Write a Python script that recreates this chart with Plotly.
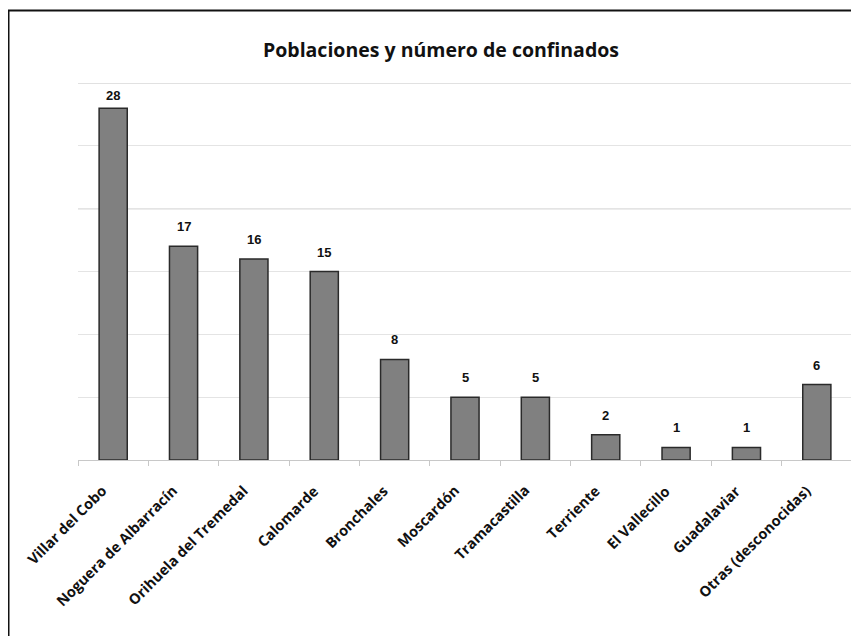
import plotly.graph_objects as go

categories = ["Villar del Cobo", "Noguera de Albarracín", "Orihuela del Tremedal",
              "Calomarde", "Bronchales", "Moscardón", "Tramacastilla", "Terriente",
              "El Vallecillo", "Guadalaviar", "Otras (desconocidas)"]
values = [28, 17, 16, 15, 8, 5, 5, 2, 1, 1, 6]
title_text = "Poblaciones y número de confinados"

# page body has an 8px margin; figure sized to fit the window
W, H = 851, 628
L, R, T, B = 70, 7, 75, 176
pw, ph = W - L - R, H - T - B

fig = go.Figure()
fig.add_trace(go.Bar(
    x=categories, y=values, width=0.4,
    marker=dict(color="#808080", line=dict(color="#2a2a2a", width=1.5)),
    hoverinfo="x+y",
))

for c, v in zip(categories, values):
    fig.add_annotation(
        x=c, y=v, text=str(v), showarrow=False, yanchor="bottom",
        yshift=3 if v == max(values) else 10,
        font=dict(family="Liberation Sans, Arial", size=13, color="#111", weight="bold"),
    )

# category labels, rotated 45 degrees, ending just below each tick
for c in categories:
    fig.add_annotation(
        x=c, y=0, xref="x", yref="y", text=c, showarrow=False, textangle=-45,
        xanchor="right", yanchor="top", xshift=-1, yshift=-20, borderpad=0,
        font=dict(family="Open Sans", size=14.5, color="#111", weight="bold"),
    )

fig.update_layout(
    width=W, height=H,
    margin=dict(l=L, r=R, t=T, b=B),
    paper_bgcolor="white", plot_bgcolor="white",
    showlegend=False,
    title=dict(text=title_text, x=(433 - L) / pw, xref="paper", xanchor="center",
               y=1 - 42 / H, yanchor="middle",
               font=dict(family="Open Sans", size=19.5, color="#111", weight="bold")),
    bargap=0.6,
)
fig.update_xaxes(
    range=[-0.5, len(categories) - 0.5], autorange=False,
    tickson="boundaries", ticks="outside", ticklen=5, showticklabels=False,
    tickcolor="#c8c8c8", showline=True, linecolor="#c8c8c8", linewidth=1,
    showgrid=False,
)
fig.update_yaxes(
    range=[0, 30], dtick=5, showticklabels=False, showgrid=True,
    gridcolor="#e4e4e4", gridwidth=1, zeroline=False, showline=False,
)
for gy, col in [(20, "#b4b4b4"), (30, "#c4c4c4")]:
    fig.add_shape(type="line", xref="paper", yref="y", x0=0, x1=1, y0=gy, y1=gy,
                  line=dict(color=col, width=1.2), layer="below")

# outer border (left and top edges visible, right/bottom run off the page)
fig.add_shape(type="rect", xref="paper", yref="paper",
              x0=(0.5 - L) / pw, x1=(W + 20 - L) / pw,
              y0=-(H + 20 - T - ph) / ph, y1=(T + ph - 2.5) / ph,
              line=dict(color="#111", width=2), fillcolor="rgba(0,0,0,0)")

fig.write_html("out.html")
